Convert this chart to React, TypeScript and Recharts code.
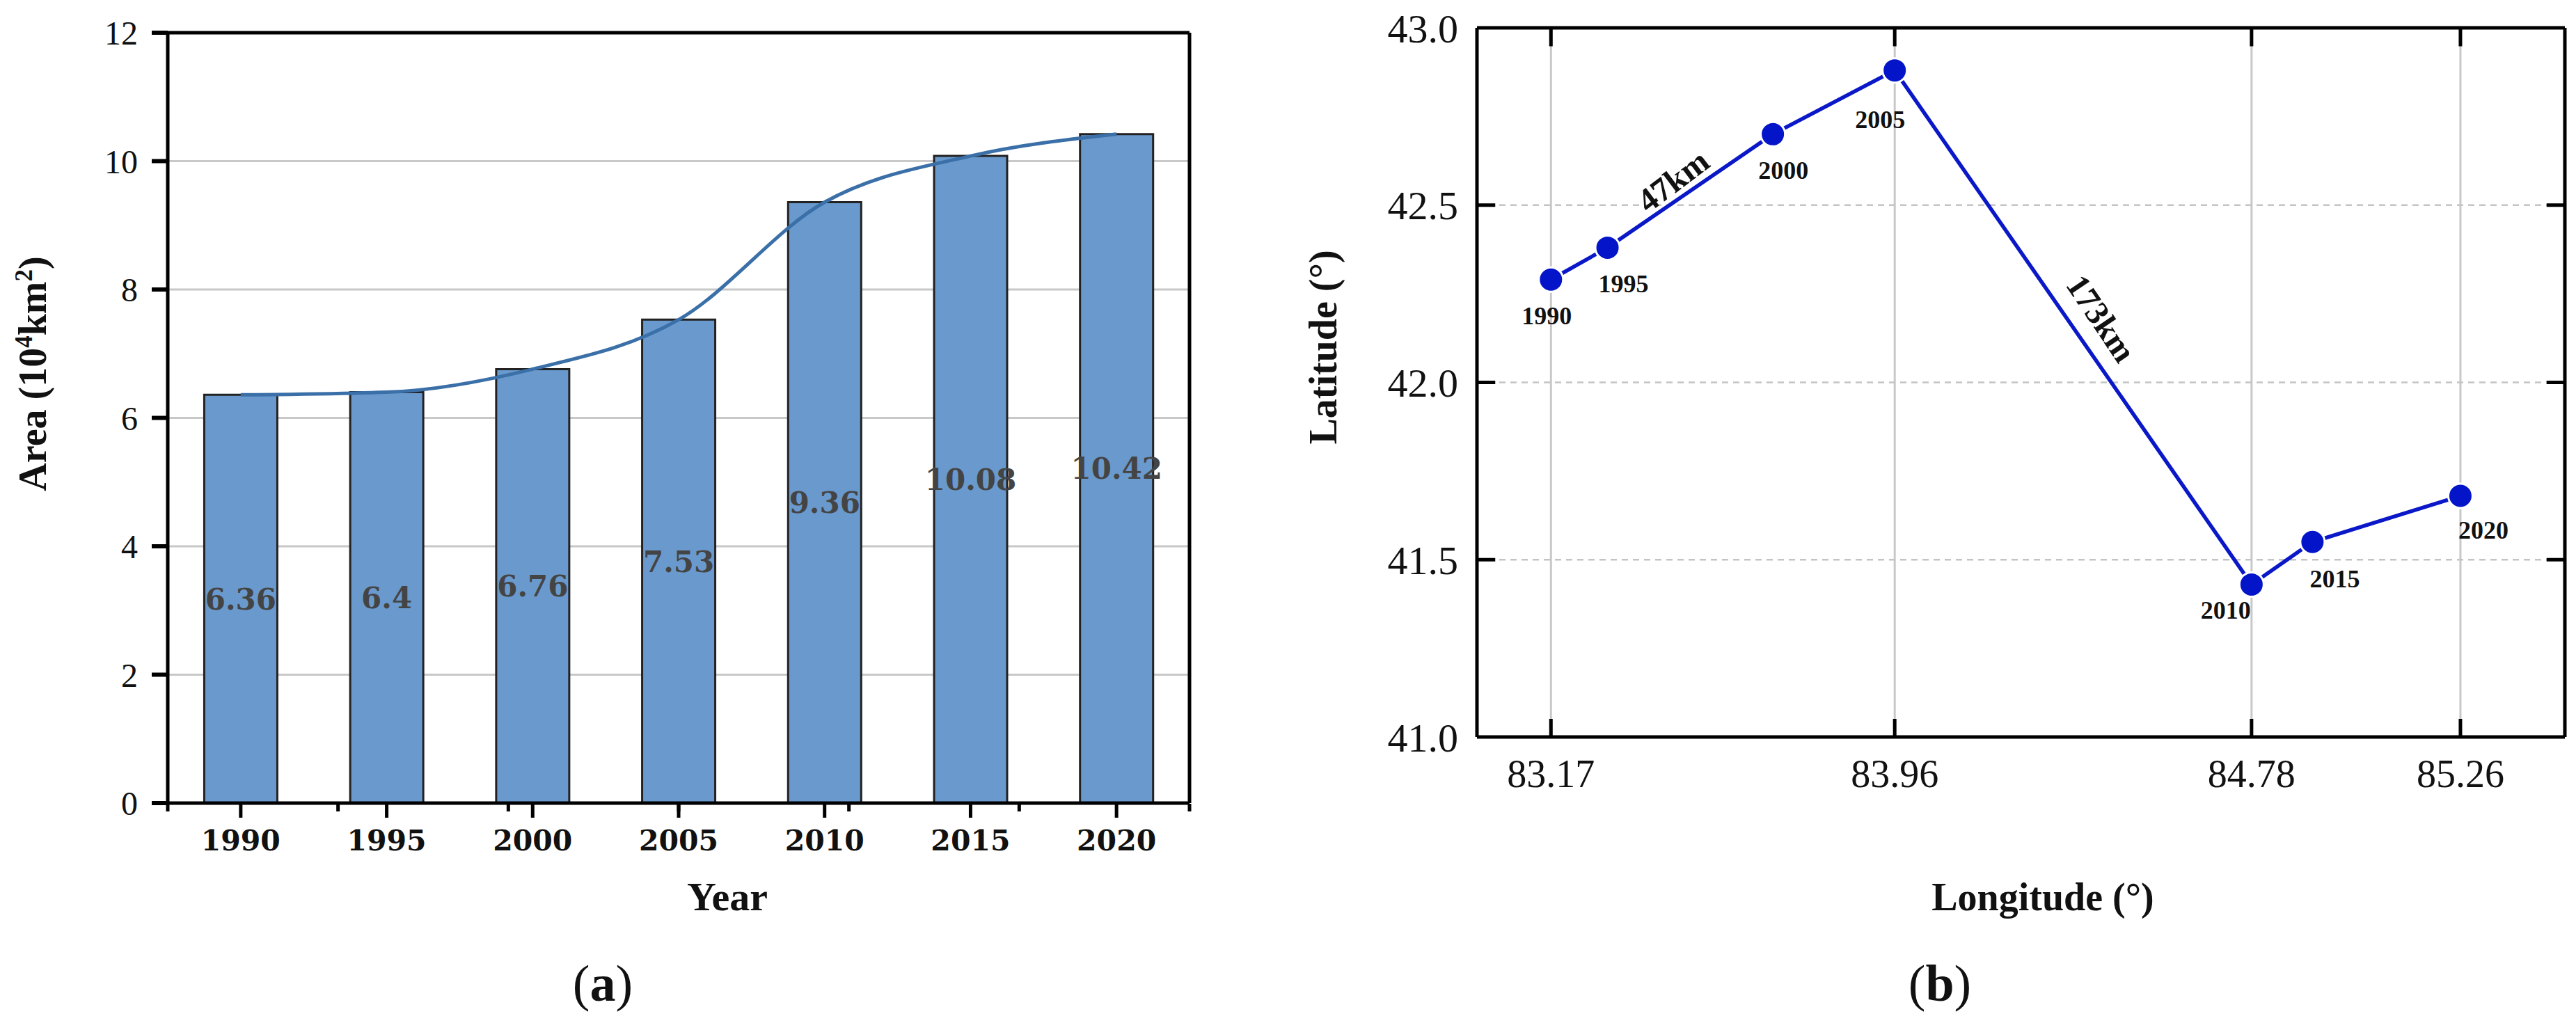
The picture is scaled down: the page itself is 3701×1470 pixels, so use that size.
import React from "react";
import {
  Bar, CartesianGrid, ComposedChart, LabelList, Line, LineChart,
  ReferenceDot, ReferenceLine, XAxis, YAxis,
} from "recharts";

// ---- Panel (a) data
const years = ["1990", "1995", "2000", "2005", "2010", "2015", "2020"];
const areas = [6.36, 6.4, 6.76, 7.53, 9.36, 10.08, 10.42];
const areaTicks = [0, 2, 4, 6, 8, 10, 12];
const minorTicks = [0, 1, 2, 3, 4, 5, 6, 7];

// ---- Panel (b) data
const longitudes = [83.17, 83.3, 83.68, 83.96, 84.78, 84.92, 85.26];
const latitudes = [42.29, 42.38, 42.7, 42.88, 41.43, 41.55, 41.68];
const lonTicks = [83.17, 83.96, 84.78, 85.26];
const latTicks = [41, 41.5, 42, 42.5, 43];
const innerLatTicks = [41.5, 42, 42.5];
const distances = [
  { text: "47km", lon: 83.451, lat: 42.568 },
  { text: "173km", lon: 84.434, lat: 42.18 },
];

const areaRows = years.map((year, i) => ({ year, area: areas[i], trend: areas[i] }));
const pathRows = years.map((year, i) => ({ year, lon: longitudes[i], lat: latitudes[i] }));

const SERIF = '"Liberation Serif", serif';
const DJ = '"DejaVu Serif", serif';
const BLACK = "#000";
const axisLine = { stroke: BLACK, strokeWidth: 5 };
const tickLine = { stroke: BLACK, strokeWidth: 5 };
const NoTickText = () => <g />;

// label offsets for the year tags of panel (b), in drawing order
const tagDx = [-6, 23, 15, -21, -37, 32, 33];
const tagDy = [52, 52, 52, 71, 37, 53, 50];
const noteAngle = [-37, 56];

const B_LEFT = 1850;
const INWARD = -26;
const LON_MIN = 83;
const LON_MAX = 85.5;
const LAT_MIN = 41;
const LAT_MAX = 43;
// inward tick lengths, in axis units
const LAT_TICK_LEN = 0.052;
const LON_TICK_LEN = 0.042;

function PanelA() {
  return (
    <div style={{ position: "absolute", left: 0, top: 0 }}>
      <ComposedChart
        width={1850}
        height={1470}
        data={areaRows}
        barCategoryGap="25%"
        margin={{ top: 46, left: 141, right: 140, bottom: 314 }}
      >
        <CartesianGrid vertical={false} stroke="#c8c8c8" strokeWidth={3} />
        <Bar dataKey="area" fill="#6a9acd" stroke="#222" strokeWidth={3} isAnimationActive={false}>
          <LabelList
            dataKey="area"
            position="center"
            style={{ fontFamily: DJ, fontWeight: 700, fontSize: 42, fill: "#444" }}
          />
        </Bar>
        <Line
          dataKey="trend"
          type="monotone"
          stroke="#3a6fa8"
          strokeWidth={5}
          dot={false}
          activeDot={false}
          isAnimationActive={false}
        />
        <XAxis
          xAxisId="minor"
          type="number"
          orientation="bottom"
          domain={[0, 7]}
          ticks={minorTicks}
          tick={NoTickText}
          tickSize={11}
          tickLine={tickLine}
          axisLine={false}
          height={1}
        />
        <XAxis
          dataKey="year"
          height={1}
          interval={0}
          tickSize={21}
          tickMargin={18}
          tickLine={tickLine}
          axisLine={axisLine}
          tick={{ fontFamily: DJ, fontWeight: 700, fontSize: 41, fill: "#111" }}
          label={() => (
            <text x={1045} y={1308} textAnchor="middle" fontFamily={SERIF} fontWeight={700} fontSize={58} fill="#111">
              Year
            </text>
          )}
        />
        <XAxis
          xAxisId="top"
          type="number"
          orientation="top"
          domain={[0, 7]}
          tick={false}
          tickLine={false}
          axisLine={axisLine}
          height={1}
        />
        <YAxis
          width={100}
          domain={[0, 12]}
          ticks={areaTicks}
          tickSize={23}
          tickMargin={20}
          tickLine={{ stroke: BLACK, strokeWidth: 6 }}
          axisLine={axisLine}
          tick={{ fontFamily: SERIF, fontSize: 48, fill: "#111" }}
          label={() => (
            <text
              transform="translate(66 537) rotate(-90)"
              textAnchor="middle"
              fontFamily={SERIF}
              fontWeight={700}
              fontSize={56}
              fill="#111"
            >
              Area (10<tspan dy={-20} fontSize={35}>4</tspan>
              <tspan dy={20}>km</tspan>
              <tspan dy={-20} fontSize={35}>2</tspan>
              <tspan dy={20}>)</tspan>
            </text>
          )}
        />
        <YAxis
          yAxisId="right"
          orientation="right"
          domain={[0, 12]}
          width={1}
          tick={false}
          tickLine={false}
          axisLine={axisLine}
        />
      </ComposedChart>
    </div>
  );
}

function YearTag(props: any) {
  const { x, y, index, value } = props;
  return (
    <text
      x={x + tagDx[index]}
      y={y + tagDy[index]}
      dy="0.33em"
      textAnchor="middle"
      fontFamily={SERIF}
      fontWeight={700}
      fontSize={36}
      fill="#111"
    >
      {value}
    </text>
  );
}

function PanelB() {
  const tickStroke = { stroke: BLACK, strokeWidth: 5, ifOverflow: "visible" as const };
  return (
    <div style={{ position: "absolute", left: B_LEFT, top: 0 }}>
      <LineChart
        width={1851}
        height={1470}
        data={pathRows}
        margin={{ top: 39, left: 172, right: 15, bottom: 410 }}
      >
        <CartesianGrid horizontal={false} stroke="#c8c8c8" strokeWidth={3} />
        <CartesianGrid vertical={false} stroke="#c4c4c4" strokeWidth={2.5} strokeDasharray="9 7" />
        {lonTicks.map((lon) => (
          <ReferenceLine
            key={`t${lon}`}
            segment={[{ x: lon, y: LAT_MAX }, { x: lon, y: LAT_MAX - LAT_TICK_LEN }]}
            {...tickStroke}
          />
        ))}
        {innerLatTicks.map((lat) => (
          <ReferenceLine
            key={`l${lat}`}
            segment={[{ x: LON_MIN, y: lat }, { x: LON_MIN + LON_TICK_LEN, y: lat }]}
            {...tickStroke}
          />
        ))}
        {innerLatTicks.map((lat) => (
          <ReferenceLine
            key={`r${lat}`}
            segment={[{ x: LON_MAX, y: lat }, { x: LON_MAX - LON_TICK_LEN, y: lat }]}
            {...tickStroke}
          />
        ))}
        <XAxis
          dataKey="lon"
          type="number"
          domain={[LON_MIN, LON_MAX]}
          ticks={lonTicks}
          tickFormatter={(v: number) => v.toFixed(2)}
          height={1}
          tickSize={INWARD}
          tickMargin={58}
          tickLine={tickLine}
          axisLine={axisLine}
          tick={{ fontFamily: SERIF, fontSize: 56, fill: "#111" }}
          label={() => (
            <text x={2935 - B_LEFT} y={1308} textAnchor="middle" fontFamily={SERIF} fontWeight={700} fontSize={56} fill="#111">
              Longitude (°)
            </text>
          )}
        />
        <YAxis
          width={100}
          domain={[LAT_MIN, LAT_MAX]}
          ticks={latTicks}
          tickFormatter={(v: number) => v.toFixed(1)}
          tickSize={0}
          tickMargin={27}
          tickLine={false}
          axisLine={axisLine}
          tick={{ fontFamily: SERIF, fontSize: 58, fill: "#111" }}
          label={() => (
            <text
              transform={`translate(${1920 - B_LEFT} 499) rotate(-90)`}
              textAnchor="middle"
              fontFamily={SERIF}
              fontWeight={700}
              fontSize={56}
              fill="#111"
            >
              Latitude (°)
            </text>
          )}
        />
        <XAxis
          xAxisId="topSpine"
          orientation="top"
          type="number"
          domain={[LON_MIN, LON_MAX]}
          height={1}
          tick={false}
          tickLine={false}
          axisLine={axisLine}
        />
        <YAxis
          yAxisId="rightSpine"
          orientation="right"
          domain={[LAT_MIN, LAT_MAX]}
          width={1}
          tick={false}
          tickLine={false}
          axisLine={axisLine}
        />
        <Line
          dataKey="lat"
          type="linear"
          stroke="#0a18c8"
          strokeWidth={5.5}
          dot={{ r: 17.5, fill: "#0414c8", stroke: "#fff", strokeWidth: 3 }}
          activeDot={false}
          isAnimationActive={false}
        >
          <LabelList dataKey="year" content={YearTag} />
        </Line>
        {distances.map((d, i) => (
          <ReferenceDot
            key={d.text}
            x={d.lon}
            y={d.lat}
            r={0}
            fill="none"
            stroke="none"
            ifOverflow="visible"
            label={(p: any) => (
              <text
                transform={`translate(${p.viewBox.x} ${p.viewBox.y}) rotate(${noteAngle[i]})`}
                dy="0.33em"
                textAnchor="middle"
                fontFamily={SERIF}
                fontWeight={700}
                fontSize={48}
                fill="#111"
              >
                {d.text}
              </text>
            )}
          />
        ))}
      </LineChart>
    </div>
  );
}

function Caption({ x, letter }: { x: number; letter: string }) {
  return (
    <div
      style={{
        position: "absolute",
        left: x - 100,
        top: 1368,
        width: 200,
        textAlign: "center",
        fontFamily: SERIF,
        fontSize: 74,
        lineHeight: "90px",
        color: "#111",
      }}
    >
      (<b>{letter}</b>)
    </div>
  );
}

export default function App() {
  return (
    <div style={{ position: "absolute", left: 0, top: 0, width: 3701, height: 1470, overflow: "hidden", background: "#fff" }}>
      <PanelA />
      <PanelB />
      <Caption x={866} letter="a" />
      <Caption x={2787} letter="b" />
    </div>
  );
}
